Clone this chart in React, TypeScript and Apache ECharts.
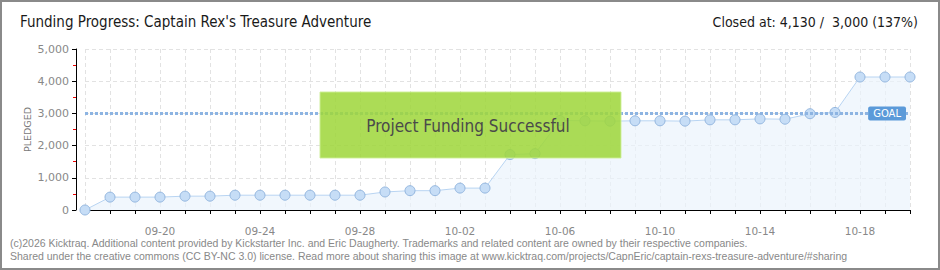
import React, { useEffect, useRef } from "react";
import * as echarts from "echarts";

const dates = [
  "09-17", "09-18", "09-19", "09-20", "09-21", "09-22", "09-23", "09-24", "09-25", "09-26",
  "09-27", "09-28", "09-29", "09-30", "10-01", "10-02", "10-03", "10-04", "10-05", "10-06",
  "10-07", "10-08", "10-09", "10-10", "10-11", "10-12", "10-13", "10-14", "10-15", "10-16",
  "10-17", "10-18", "10-19", "10-20",
];
const pledged = [
  0, 400, 400, 400, 430, 430, 460, 460, 460, 460,
  460, 460, 560, 600, 600, 680, 680, 1720, 1750, 2780,
  2770, 2760, 2770, 2770, 2760, 2800, 2800, 2830, 2820, 2990,
  3030, 4130, 4130, 4130,
];
const goal = 3000;
const titleText = "Funding Progress: Captain Rex's Treasure Adventure";
const closedText = "Closed at: 4,130 /  3,000 (137%)";
const bannerText = "Project Funding Successful";
const footer1 =
  "(c)2026 Kicktraq. Additional content provided by Kickstarter Inc. and Eric Daugherty. Trademarks and related content are owned by their respective companies.";
const footer2 =
  "Shared under the creative commons (CC BY-NC 3.0) license. Read more about sharing this image at www.kicktraq.com/projects/CapnEric/captain-rexs-treasure-adventure/#sharing";

const narrow = "'Liberation Sans Narrow', 'DejaVu Sans Condensed', sans-serif";
const small = "'DejaVu Sans', sans-serif";

export default function App() {
  const ref = useRef<HTMLDivElement>(null);
  useEffect(() => {
    document.body.style.margin = "0";
    const chart = echarts.init(ref.current!, null, { renderer: "svg" });
    chart.setOption({
      animation: false,
      backgroundColor: "#fff",
      grid: { left: 85, right: 30, top: 49, bottom: 60 },
      xAxis: {
        type: "category",
        data: dates,
        boundaryGap: false,
        offset: 10,
        axisLine: { lineStyle: { color: "#000", width: 1 } },
        axisTick: { show: true, interval: 0, length: 4, lineStyle: { color: "#000" } },
        axisLabel: {
          interval: (i: number) => i % 4 === 3,
          color: "#888",
          fontFamily: small,
          fontSize: 10.5,
          margin: 5,
        },
        splitLine: {
          show: true,
          interval: 0,
          lineStyle: { color: "#e2e2e2", type: [4, 3] },
        },
      },
      yAxis: {
        type: "value",
        min: 0,
        max: 5000,
        interval: 1000,
        offset: 9,
        name: "PLEDGED",
        nameLocation: "middle",
        nameGap: 44,
        nameMoveOverlap: false,
        nameTextStyle: { color: "#777", fontSize: 9.5, fontFamily: small },
        axisLine: { show: true, lineStyle: { color: "#000" } },
        axisTick: { show: true, length: 4, lineStyle: { color: "#000" } },
        minorTick: { show: true, splitNumber: 2, length: 3, lineStyle: { color: "#e00" } },
        axisLabel: {
          color: "#888",
          fontFamily: small,
          fontSize: 11,
          margin: 7,
          formatter: (v: number) => v.toLocaleString("en-US"),
        },
        splitLine: { show: true, lineStyle: { color: "#e2e2e2", type: [4, 3] } },
      },
      series: [
        {
          type: "line",
          data: pledged,
          symbol: "circle",
          symbolSize: 10,
          lineStyle: { color: "#b8d4f2", width: 1 },
          itemStyle: { color: "#c6ddf6", borderColor: "#93b6df", borderWidth: 1 },
          areaStyle: { color: "#ebf3fc" },
          z: 2,
          markLine: {
            silent: true,
            symbol: "none",
            lineStyle: { color: "#8db4e2", width: 3, type: [3, 2] },
            label: {
              show: true,
              position: "insideEndTop",
              formatter: "GOAL",
              color: "#fff",
              backgroundColor: "#5b9ad9",
              fontFamily: small,
              fontSize: 10,
              padding: [2, 5],
              borderRadius: 2,
              distance: [4, -7],
            },
            data: [{ yAxis: goal }],
          },
        },
      ],
      graphic: [
        {
          type: "rect",
          z: 200,
          zlevel: 1,
          shape: { x: 1, y: 1, width: 938, height: 268 },
          style: { fill: "none", stroke: "#8a8a8a", lineWidth: 2 },
        },
        {
          type: "text",
          x: 20,
          y: 22,
          style: {
            text: titleText,
            fontFamily: narrow,
            fontSize: 15,
            fill: "#1a1a1a",
            verticalAlign: "middle",
          },
        },
        {
          type: "text",
          x: 918,
          y: 22,
          style: {
            text: closedText,
            fontFamily: narrow,
            fontSize: 14,
            fill: "#1a1a1a",
            align: "right",
            verticalAlign: "middle",
          },
        },
        {
          type: "rect",
          z: 100,
          zlevel: 1,
          shape: { x: 320, y: 92, width: 301, height: 66 },
          style: { fill: "rgba(158,214,58,0.86)", stroke: "rgba(205,238,150,0.9)", lineWidth: 1 },
        },
        {
          type: "text",
          z: 101,
          zlevel: 1,
          x: 468,
          y: 126,
          style: {
            text: bannerText,
            fontFamily: narrow,
            fontSize: 17,
            fill: "#4a4a4a",
            align: "center",
            verticalAlign: "middle",
            textShadowColor: "rgba(255,255,255,0.9)",
            textShadowOffsetX: 1,
            textShadowOffsetY: 1,
            textShadowBlur: 0,
          },
        },
        {
          type: "text",
          x: 10,
          y: 243,
          style: { text: footer1, fontFamily: "'Liberation Sans', sans-serif", fontSize: 10.5, fill: "#888", verticalAlign: "middle" },
        },
        {
          type: "text",
          x: 10,
          y: 256,
          style: { text: footer2, fontFamily: "'Liberation Sans', sans-serif", fontSize: 10.5, fill: "#888", verticalAlign: "middle" },
        },
      ],
    });
    return () => chart.dispose();
  }, []);
  return <div ref={ref} style={{ width: 940, height: 270 }} />;
}
